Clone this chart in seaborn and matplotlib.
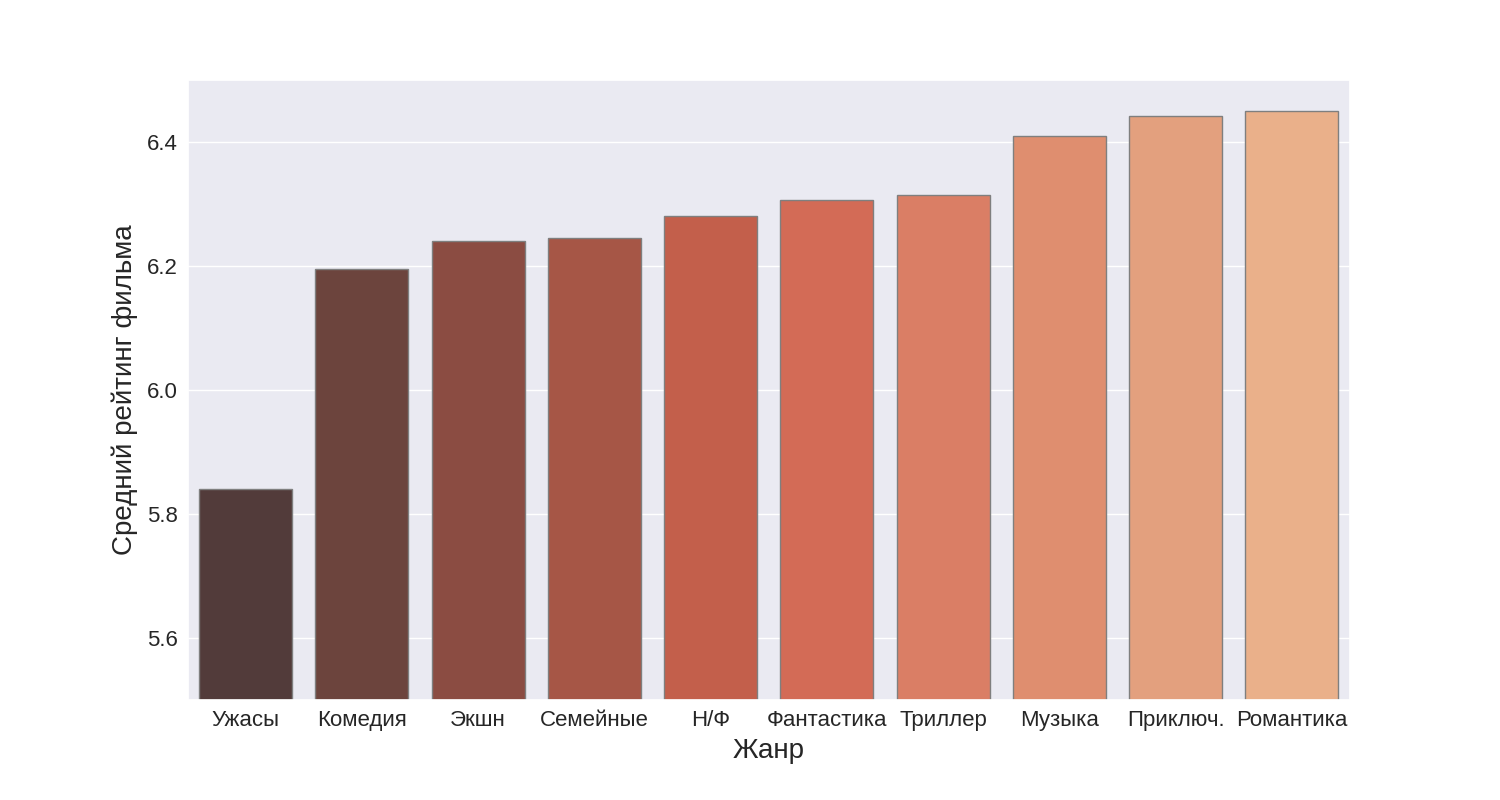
import matplotlib
matplotlib.use("Agg")
import matplotlib.pyplot as plt
import seaborn as sns
import pandas as pd

genres = ["Ужасы", "Комедия", "Экшн", "Семейные", "Н/Ф", "Фантастика",
          "Триллер", "Музыка", "Приключ.", "Романтика"]
ratings = [5.84, 6.195, 6.24, 6.245, 6.28, 6.306, 6.314, 6.41, 6.442, 6.45]
bar_colors = ["#523b3a", "#6c443d", "#8b4c42", "#a65646", "#c35f4b",
              "#d36b56", "#da7e65", "#df8e6f", "#e3a07e", "#eab08a"]
yticks = [5.6, 5.8, 6.0, 6.2, 6.4]

sns.set_theme(style="darkgrid")
plt.rcParams["font.family"] = ["Liberation Sans", "DejaVu Sans"]

df = pd.DataFrame({"Жанр": genres, "Рейтинг": ratings})

fig, ax = plt.subplots(figsize=(15, 8), dpi=100)
sns.barplot(data=df, x="Жанр", y="Рейтинг", hue="Жанр", palette=bar_colors,
            saturation=1, edgecolor="#7f7f7f", linewidth=1, legend=False, ax=ax)
ax.set_ylim(5.5, 6.5)
ax.set_yticks(yticks)
ax.set_yticklabels([f"{v:.1f}" for v in yticks])
ax.tick_params(axis="both", labelsize=16, pad=1.2)
ax.set_xlabel("Жанр", fontsize=20, labelpad=5)
ax.set_ylabel("Средний рейтинг фильма", fontsize=20, labelpad=6)
fig.subplots_adjust(left=0.125, right=0.9, top=0.9, bottom=0.125)
fig.savefig("out.png", dpi=100)
